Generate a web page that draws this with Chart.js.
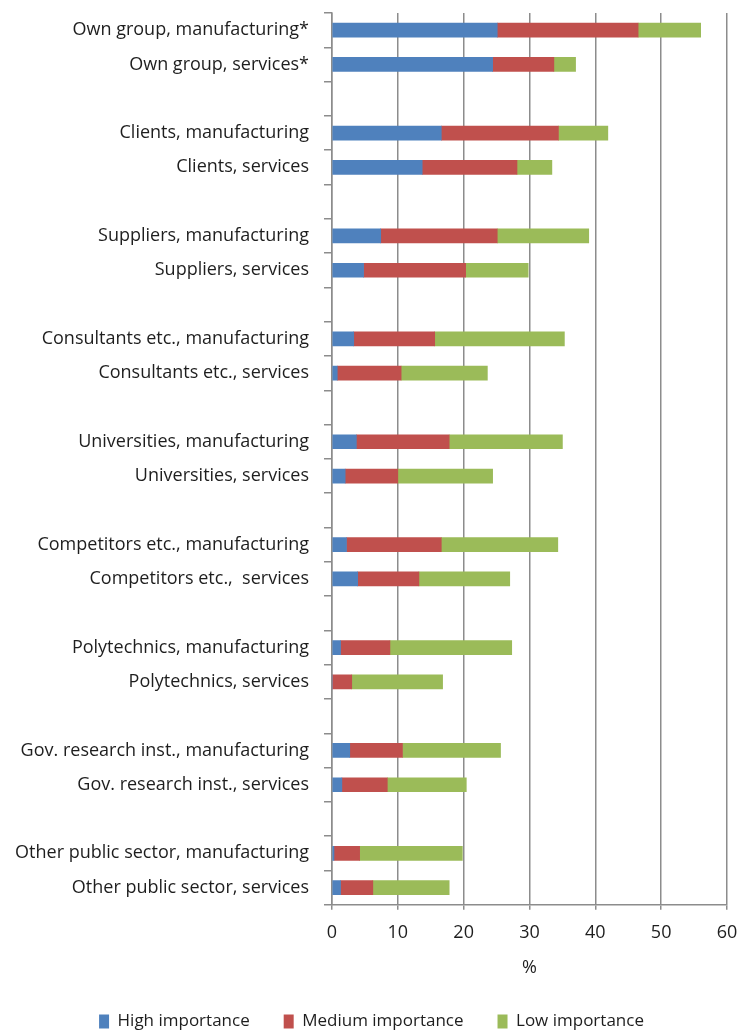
<!DOCTYPE html>
<html>
<head>
<meta charset="utf-8">
<script src="https://cdn.jsdelivr.net/npm/chart.js@4.4.1/dist/chart.umd.min.js"></script>
<style>
  html, body { margin: 0; padding: 0; background: #ffffff; }
  #wrap { width: 741px; height: 1030px; }
</style>
</head>
<body>
<div id="wrap"><canvas id="c" width="741" height="1030"></canvas></div>
<script>
const categories = [
  "Own group, manufacturing*", "Own group, services*", "",
  "Clients, manufacturing", "Clients, services", "",
  "Suppliers, manufacturing", "Suppliers, services", "",
  "Consultants etc., manufacturing", "Consultants etc., services", "",
  "Universities, manufacturing", "Universities, services", "",
  "Competitors etc., manufacturing", "Competitors etc.,  services", "",
  "Polytechnics, manufacturing", "Polytechnics, services", "",
  "Gov. research inst., manufacturing", "Gov. research inst., services", "",
  "Other public sector, manufacturing", "Other public sector, services"
];
const highImportance = [25.1, 24.4, null, 16.6, 13.7, null, 7.4, 4.8, null, 3.3, 0.8, null, 3.7, 2.0, null, 2.2, 3.9, null, 1.3, 0, null, 2.7, 1.5, null, 0.3, 1.3];
const mediumImportance = [21.4, 9.3, null, 17.8, 14.4, null, 17.7, 15.5, null, 12.3, 9.7, null, 14.1, 8.0, null, 14.4, 9.3, null, 7.5, 3.0, null, 8.0, 6.9, null, 3.9, 4.9];
const lowImportance = [9.5, 3.3, null, 7.5, 5.3, null, 13.9, 9.5, null, 19.7, 13.1, null, 17.2, 14.4, null, 17.7, 13.8, null, 18.5, 13.8, null, 14.9, 12.0, null, 15.6, 11.6];
const seriesNames = ["High importance", "Medium importance", "Low importance"];
const xTicks = [0, 10, 20, 30, 40, 50, 60];
const axisTitle = "%";

const FONT = "'Open Sans', 'DejaVu Sans', sans-serif";
const GRID = "#8c8c8c";
const TXT = "#1e1e1e";

const legendShift = {
  id: "legendShift",
  afterLayout(chart) {
    if (chart.legend) { chart.legend.left += 8; chart.legend.right += 8; }
  }
};

new Chart(document.getElementById("c"), {
  type: "bar",
  data: {
    labels: categories,
    datasets: [
      { label: seriesNames[0], data: highImportance, backgroundColor: "#4f81bd" },
      { label: seriesNames[1], data: mediumImportance, backgroundColor: "#c0504d" },
      { label: seriesNames[2], data: lowImportance, backgroundColor: "#9bbb59" }
    ]
  },
  plugins: [legendShift],
  options: {
    indexAxis: "y",
    responsive: false,
    animation: false,
    datasets: { bar: { barThickness: 14 } },
    layout: { padding: { top: 13, right: 14, left: 0, bottom: -10 } },
    plugins: {
      tooltip: { enabled: false },
      legend: {
        position: "bottom",
        labels: {
          font: { family: FONT, size: 17 },
          color: TXT,
          boxWidth: 10,
          boxHeight: 14,
          padding: 34
        }
      }
    },
    scales: {
      x: {
        stacked: true,
        min: xTicks[0],
        max: xTicks[xTicks.length - 1],
        afterBuildTicks: (s) => { s.ticks = xTicks.map(v => ({ value: v })); },
        afterFit: (s) => { s.paddingLeft = 0; s.paddingRight = 0; },
        grid: { color: GRID, lineWidth: 1.5, tickLength: 5, drawTicks: true },
        border: { color: GRID, width: 1.5 },
        ticks: { font: { family: FONT, size: 18 }, color: TXT, padding: 12, maxRotation: 0 },
        title: { display: true, text: axisTitle, font: { family: FONT, size: 18 }, color: TXT, padding: { top: 2, bottom: 0 } }
      },
      y: {
        stacked: true,
        grid: { drawOnChartArea: false, drawTicks: true, tickLength: 8, offset: true, color: GRID, lineWidth: 1.5 },
        border: { color: GRID, width: 1.5 },
        ticks: { font: { family: FONT, size: 18 }, color: TXT, padding: 15, autoSkip: false },
        afterFit: (s) => { s.width = 332; s.paddingTop = 0; s.paddingBottom = 0; }
      }
    }
  }
});
</script>
</body>
</html>
